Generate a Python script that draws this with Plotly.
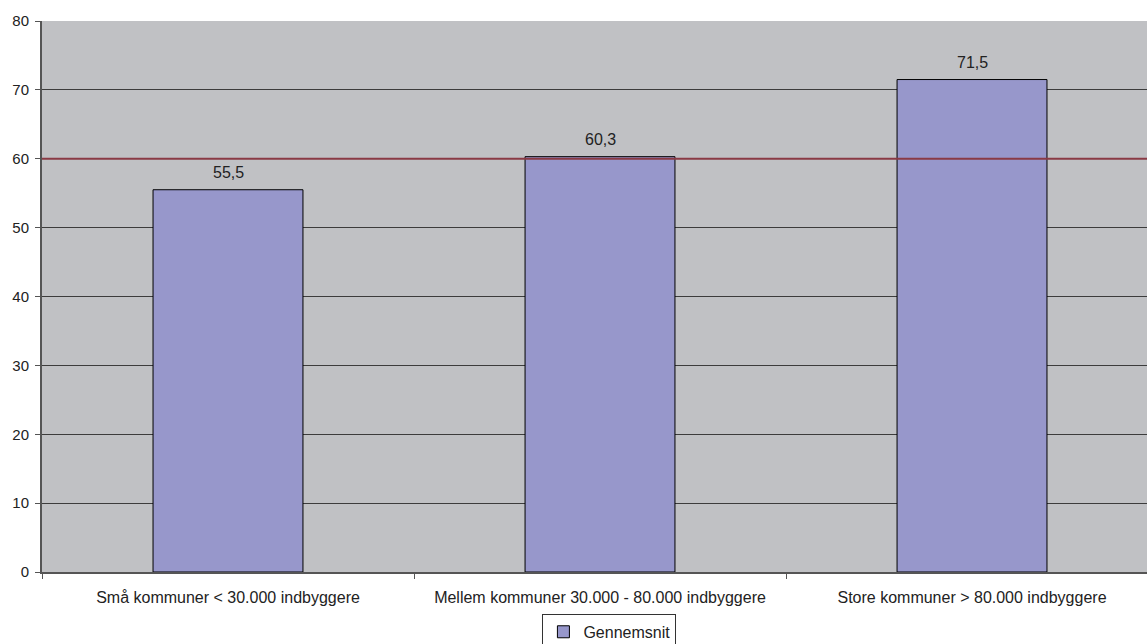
import plotly.graph_objects as go

categories = ["Små kommuner < 30.000 indbyggere",
              "Mellem kommuner 30.000 - 80.000 indbyggere",
              "Store kommuner > 80.000 indbyggere"]
values = [55.5, 60.3, 71.5]
labels = ["55,5", "60,3", "71,5"]
reference_value = 60
series_name = "Gennemsnit"
y_ticks = [0, 10, 20, 30, 40, 50, 60, 70, 80]

fig = go.Figure()
fig.add_trace(go.Bar(
    x=categories, y=values, name=series_name,
    marker=dict(color="#9797CB", line=dict(color="#000000", width=1)),
    width=0.403,
))
for c, v, t in zip(categories, values, labels):
    fig.add_annotation(x=c, y=v, text=t, showarrow=False, yanchor="bottom",
                       yshift=7, font=dict(family="Arial, Liberation Sans",
                                           size=16, color="#222"))
fig.add_shape(type="line", xref="paper", x0=0, x1=1, yref="y",
              y0=reference_value, y1=reference_value,
              line=dict(color="#8A3A45", width=2), layer="above")

fig.update_layout(
    width=1147, height=644,
    margin=dict(l=42, r=0, t=21, b=72, autoexpand=False),
    paper_bgcolor="white", plot_bgcolor="#C0C1C4",
    font=dict(family="Arial, Liberation Sans", size=16, color="#222"),
    showlegend=True,
    legend=dict(x=0.5135, xanchor="center",
                y=-0.076, yanchor="top",
                orientation="h", bordercolor="#333", borderwidth=1,
                font=dict(size=16), itemwidth=30,
                tracegroupgap=0),
    bargap=0.6,
)
fig.update_yaxes(range=[0, 80], tickvals=y_ticks, showgrid=True,
                 gridcolor="#3C3C3C", gridwidth=1, ticks="outside", ticklen=5,
                 tickcolor="#555", showline=True, linecolor="#555", linewidth=2,
                 zeroline=False, tickfont=dict(size=15), automargin=False,
                 ticklabelstandoff=3)
fig.update_xaxes(range=[-0.5, 2.4704], showgrid=False, ticks="outside", ticklen=5,
                 tickcolor="#555", tickson="boundaries", showline=True,
                 linecolor="#555", linewidth=2,
                 tickfont=dict(size=16), automargin=False, ticklabelstandoff=10)

fig.write_html("out.html")
